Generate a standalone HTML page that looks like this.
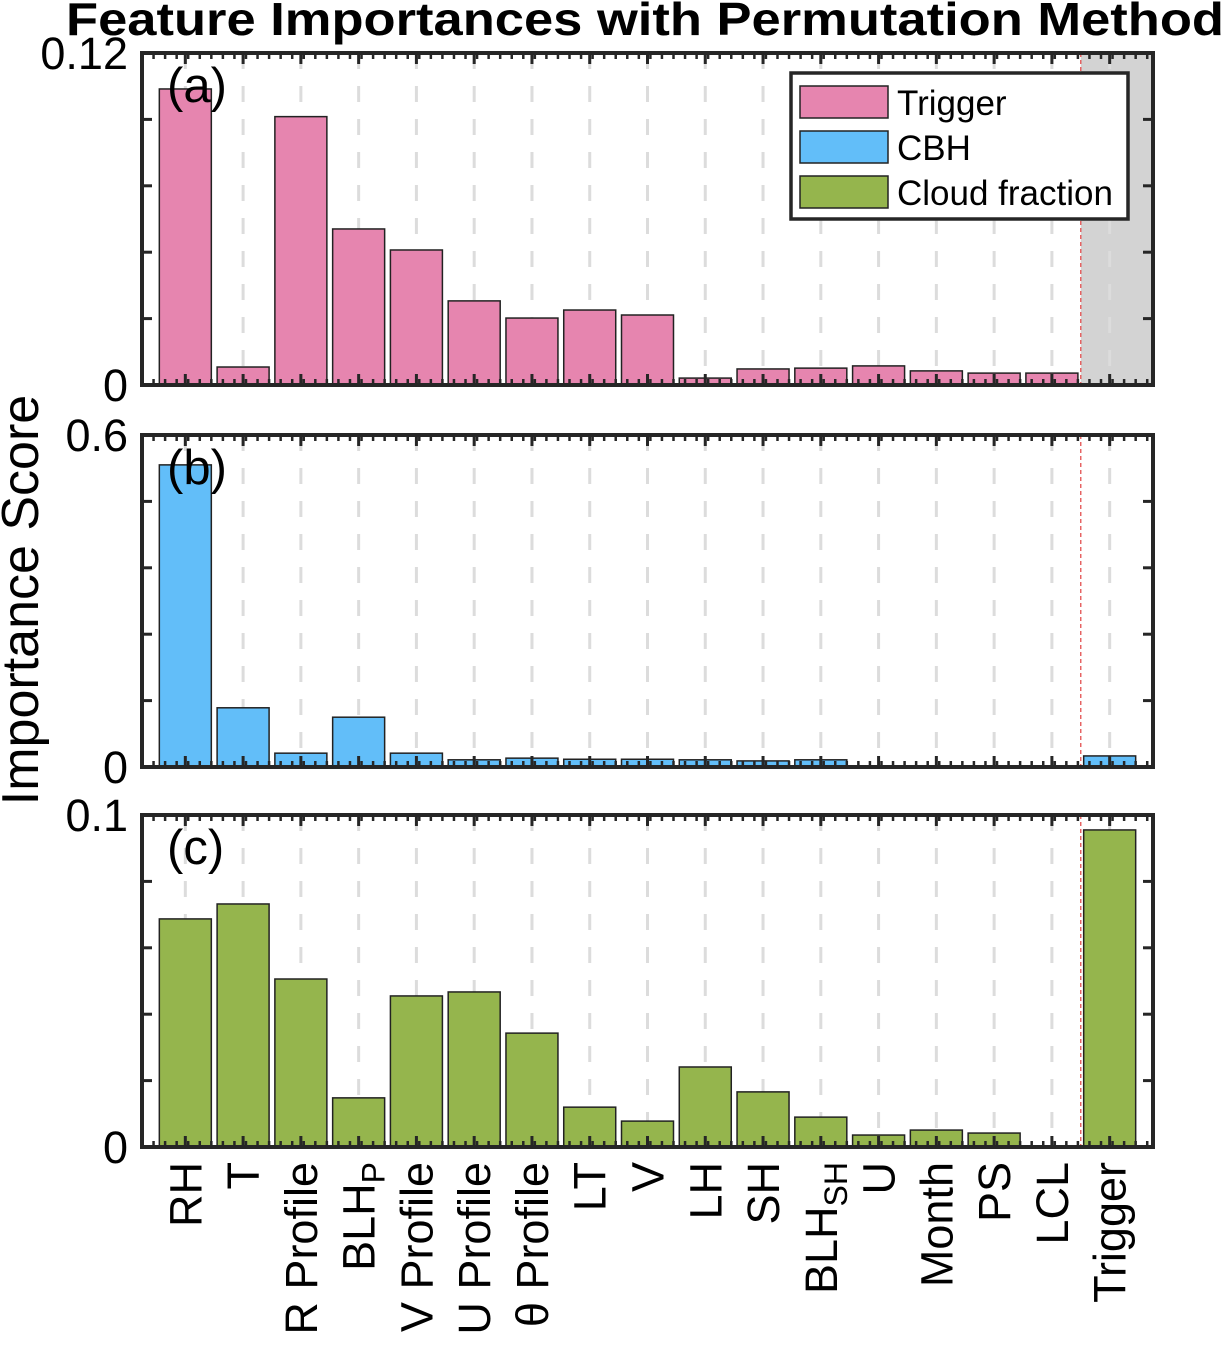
<!DOCTYPE html>
<html><head><meta charset="utf-8"><style>
body{margin:0;background:#fff;}
svg text{font-family:"Liberation Sans","DejaVu Sans",sans-serif;fill:#000;}
</style></head><body>
<svg id="c" width="1224" height="1344" viewBox="0 0 1224 1344" xmlns="http://www.w3.org/2000/svg">
<text x="645" y="35" font-size="46" font-weight="bold" text-anchor="middle" textLength="1158" lengthAdjust="spacingAndGlyphs">Feature Importances with Permutation Method</text>
<text transform="translate(38,600) rotate(-90)" font-size="52" text-anchor="middle">Importance Score</text>
</svg>
<script>
const categories=["RH","T","R Profile","BLH_P","V Profile","U Profile","θ Profile","LT","V","LH","SH","BLH_SH","U","Month","PS","LCL","Trigger"];
const triggerVals=[0.107,0.0065,0.097,0.0564,0.0488,0.0304,0.0242,0.0271,0.0253,0.0025,0.0058,0.0061,0.0069,0.0051,0.0043,0.0043,null];
const cbhVals=[0.546,0.107,0.025,0.090,0.025,0.013,0.016,0.014,0.014,0.013,0.011,0.013,null,null,null,null,0.02];
const cloudVals=[0.0687,0.0732,0.0506,0.0148,0.0455,0.0467,0.0343,0.012,0.0078,0.0241,0.0166,0.009,0.0036,0.0051,0.0042,0,0.0955];
const yMaxes=[0.12,0.6,0.1];
const yTickLabels=[["0","0.12"],["0","0.6"],["0","0.1"]];
const panelLabels=["(a)","(b)","(c)"];
const legendLabels=["Trigger","CBH","Cloud fraction"];

const svg=document.getElementById('c');
const NS="http://www.w3.org/2000/svg";
function el(t,a,p){const e=document.createElementNS(NS,t);for(const k in a)e.setAttribute(k,a[k]);(p||svg).appendChild(e);return e;}
const L=142,R=1153,x0=0.25,x1=17.75;
const xs=v=>L+(v-x0)/(x1-x0)*(R-L);
const bw=(R-L)/(x1-x0)*0.9;
const panels=[{top:53,bot:385,vals:triggerVals,col:"#e685af"},{top:435,bot:767,vals:cbhVals,col:"#62bef9"},{top:815,bot:1147,vals:cloudVals,col:"#95b54d"}];
const names=["trigger","cbh","cloud-fraction"];
panels.forEach((p,pi)=>{
  const g=el('g',{});
  
  
  const ys=v=>p.bot-v/yMaxes[pi]*(p.bot-p.top);
  if(pi===0){const r=el('rect',{x:xs(16.5),y:p.top,width:R-xs(16.5),height:p.bot-p.top,fill:"#d3d3d3"},g);}
  categories.forEach((c,i)=>{
    const ln=el('line',{x1:xs(i+1),x2:xs(i+1),y1:p.top,y2:p.bot,stroke:"#dcdcdc","stroke-width":3,"stroke-dasharray":"16 17"},g);
    
  });
  p.vals.forEach((v,i)=>{
    if(v===null||v<=0)return;
    const b=el('rect',{x:xs(i+1)-bw/2,y:ys(v),width:bw,height:p.bot-ys(v),fill:p.col,stroke:"#222","stroke-width":1.5},g);
    
    
  });
  const rl=el('line',{x1:xs(16.5),x2:xs(16.5),y1:p.top,y2:p.bot,stroke:"#e04040","stroke-width":1.2,"stroke-dasharray":"4 3"},g);
  
  for(let v=x0;v<=x1+0.001;v+=0.2){
    const X=xs(v);
    el('line',{x1:X,x2:X,y1:p.top,y2:p.top+6,stroke:"#262626","stroke-width":2.5},g);
    el('line',{x1:X,x2:X,y1:p.bot,y2:p.bot-6,stroke:"#262626","stroke-width":2.5},g);
  }
  for(let i=1;i<=17;i++){
    el('line',{x1:xs(i),x2:xs(i),y1:p.top,y2:p.top+11,stroke:"#262626","stroke-width":3},g);
    el('line',{x1:xs(i),x2:xs(i),y1:p.bot,y2:p.bot-11,stroke:"#262626","stroke-width":3},g);
  }
  for(let k=0;k<=5;k++){
    const Y=p.bot-k*(p.bot-p.top)/5;
    el('line',{x1:L,x2:L+10,y1:Y,y2:Y,stroke:"#262626","stroke-width":3},g);
    el('line',{x1:R,x2:R-10,y1:Y,y2:Y,stroke:"#262626","stroke-width":3},g);
  }
  const fr=el('rect',{x:L,y:p.top,width:R-L,height:p.bot-p.top,fill:"none",stroke:"#262626","stroke-width":4},g);
  
  const t0=el('text',{x:L-14,y:p.bot+16,"font-size":45,"text-anchor":"end"},g);t0.textContent=yTickLabels[pi][0];
  
  const t1=el('text',{x:L-14,y:p.top+16,"font-size":45,"text-anchor":"end"},g);t1.textContent=yTickLabels[pi][1];
  
  const pl=el('text',{x:167,y:p.top+49,"font-size":49},g);pl.textContent=panelLabels[pi];
  
});
categories.forEach((c,i)=>{
  const t=el('text',{transform:`translate(${xs(i+1)+16},1162) rotate(-90)`,"font-size":45,"text-anchor":"end"});
  
  
  if(c.includes('_')){const [a,b]=c.split('_');t.textContent=a;const s=el('tspan',{"font-size":32,dy:10},t);s.textContent=b;}
  else t.textContent=c;
});
const lg=el('g',{});


el('rect',{x:791,y:73,width:337,height:146,fill:"#fff",stroke:"#262626","stroke-width":3.5},lg);
legendLabels.forEach((n,i)=>{
  const y=86+i*45;
  const e=el('g',{},lg);
  
  
  el('rect',{x:800,y:y,width:88,height:32,fill:panels[i].col,stroke:"#222","stroke-width":1.5},e);
  const t=el('text',{x:897,y:y+29,"font-size":35},e);t.textContent=n;
});
</script>
</body></html>
